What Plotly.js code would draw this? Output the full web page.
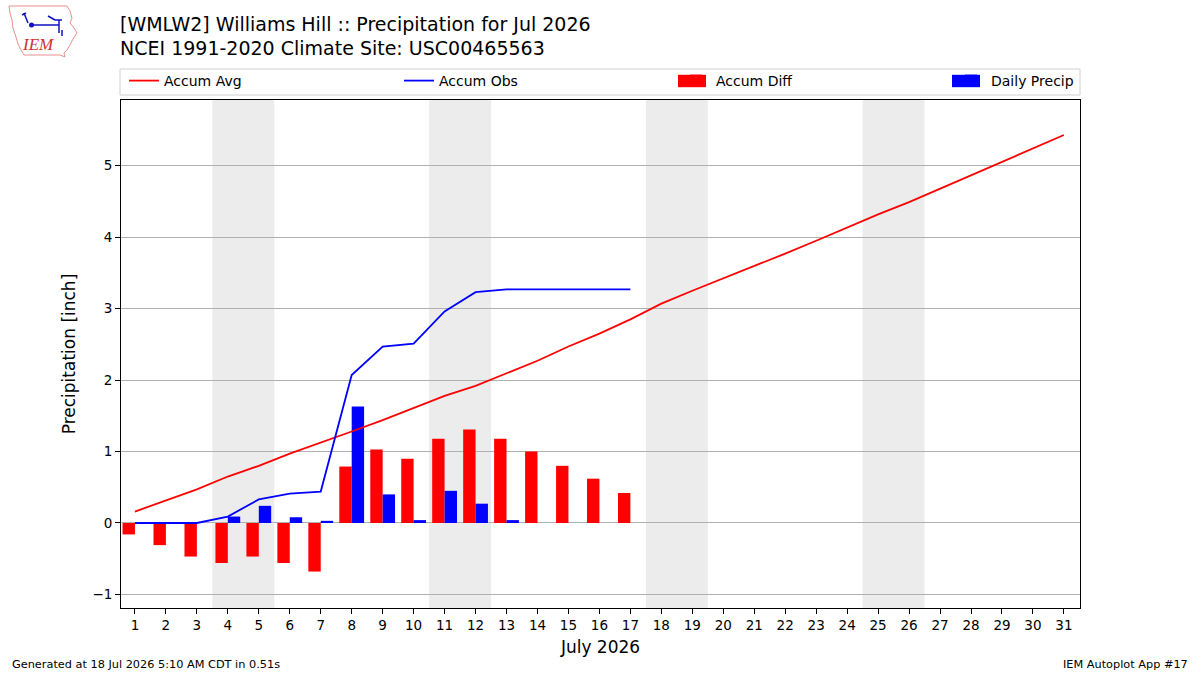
<!DOCTYPE html>
<html>
<head>
<meta charset="utf-8">
<script src="https://cdn.plot.ly/plotly-3.0.1.min.js"></script>
<style>html,body{margin:0;padding:0;background:#fff}#chart{width:1200px;height:675px}</style>
</head>
<body>
<div id="chart"></div>
<script>
// ---- data ----
const days = Array.from({length: 31}, (_, i) => i + 1);
const accumAvg = [0.16, 0.31, 0.47, 0.65, 0.80, 0.97, 1.12, 1.28, 1.44, 1.61, 1.78, 1.92, 2.09, 2.27, 2.47, 2.65, 2.85,
                  3.07, 3.25, 3.42, 3.60, 3.77, 3.95, 4.14, 4.32, 4.49, 4.68, 4.87, 5.06, 5.24, 5.43];
const obsDays = days.slice(0, 17);
const dailyPrecip = [0, 0, 0, 0.09, 0.24, 0.08, 0.03, 1.63, 0.40, 0.04, 0.45, 0.27, 0.04, 0, 0, 0, 0];
const accumObs = [0, 0, 0, 0.09, 0.33, 0.41, 0.44, 2.07, 2.47, 2.51, 2.96, 3.23, 3.27, 3.27, 3.27, 3.27, 3.27];
const accumDiff = [-0.16, -0.31, -0.47, -0.56, -0.47, -0.56, -0.68, 0.79, 1.03, 0.90, 1.18, 1.31, 1.18, 1.00, 0.80, 0.62, 0.42];
const weekendStarts = [4, 11, 18, 25];
const titleLines = ["[WMLW2] Williams Hill :: Precipitation for Jul 2026", "NCEI 1991-2020 Climate Site: USC00465563"];
const footerLeft = "Generated at 18 Jul 2026 5:10 AM CDT in 0.51s";
const footerRight = "IEM Autoplot App #17";

const FONT = "DejaVu Sans, sans-serif";
// plot area in pixels: x 121..1080, y 100..608
const PX = px => (px - 121) / 959;
const PY = py => (608 - py) / 508;

const traces = [
  {x: days, y: accumAvg, type: 'scatter', mode: 'lines', name: 'Accum Avg', legend: 'legend', line: {color: '#ff0000', width: 1.8}},
  {x: obsDays, y: accumObs, type: 'scatter', mode: 'lines', name: 'Accum Obs', legend: 'legend2', line: {color: '#0000ff', width: 1.8}},
  {x: obsDays, y: accumDiff, type: 'bar', name: 'Accum Diff', legend: 'legend3', marker: {color: '#ff0000', line: {width: 0}}, width: 0.4, offset: -0.4},
  {x: obsDays, y: dailyPrecip, type: 'bar', name: 'Daily Precip', legend: 'legend4', marker: {color: '#0000ff', line: {width: 0}}, width: 0.4, offset: 0}
];

const shapes = weekendStarts.map(d => ({
  type: 'rect', xref: 'x', yref: 'paper', x0: d - 0.5, x1: d + 1.5, y0: 0, y1: 1,
  fillcolor: '#ececec', line: {width: 0}, layer: 'below'
}));
// legend frame
shapes.push({type: 'rect', xref: 'paper', yref: 'paper', x0: PX(120), x1: PX(1080), y0: PY(95), y1: PY(69),
  fillcolor: 'rgba(255,255,255,0)', line: {color: '#d0d0d0', width: 1}, layer: 'above'});
// wide legend swatches for the bar series (drawn over the default square symbols)
shapes.push({type: 'rect', xref: 'paper', yref: 'paper', x0: PX(678), x1: PX(706), y0: PY(87.2), y1: PY(74.8),
  fillcolor: '#ff0000', line: {width: 0}, layer: 'above'});
shapes.push({type: 'rect', xref: 'paper', yref: 'paper', x0: PX(952), x1: PX(980), y0: PY(87.2), y1: PY(74.8),
  fillcolor: '#0000ff', line: {width: 0}, layer: 'above'});
// logo: simplified state outline
const outline = [[9,6],[67,6],[70,11],[72,18],[70,23],[74,28],[77,33],[73,39],[70,45],[67,50],[64,53],[65,57],[60,55],[24,55],[21,50],[18,44],[16,37],[13,28],[12,20],[10,13]];
const pathStr = outline.map((p, i) => (i ? 'L ' : 'M ') + PX(p[0]).toFixed(5) + ',' + PY(p[1]).toFixed(5)).join(' ') + ' Z';
shapes.push({type: 'path', xref: 'paper', yref: 'paper', path: pathStr, line: {color: '#e89090', width: 1}, fillcolor: 'rgba(0,0,0,0)', layer: 'above'});
// logo glyph lines
const glyph = [
  [[31,25],[59,25]], [[59,20],[59,33]], [[48,16],[55,20]], [[55,20],[62,20]], [[24,13],[28,23]], [[22,15],[26,13]], [[62,30],[62,36]]
];
glyph.forEach(g => shapes.push({type: 'line', xref: 'paper', yref: 'paper', x0: PX(g[0][0]), y0: PY(g[0][1]), x1: PX(g[1][0]), y1: PY(g[1][1]),
  line: {color: '#1010c0', width: 1.5}, layer: 'above'}));
shapes.push({type: 'circle', xref: 'paper', yref: 'paper', x0: PX(29), x1: PX(34), y0: PY(27.5), y1: PY(22.5), fillcolor: '#1010c0', line: {width: 0}, layer: 'above'});

const annotations = [
  {text: titleLines[0], xref: 'paper', yref: 'paper', x: PX(118), y: PY(24), xanchor: 'left', yanchor: 'middle', showarrow: false,
   font: {family: FONT, size: 19, color: '#000'}},
  {text: titleLines[1], xref: 'paper', yref: 'paper', x: PX(118), y: PY(48), xanchor: 'left', yanchor: 'middle', showarrow: false,
   font: {family: FONT, size: 19, color: '#000'}},
  {text: footerLeft, xref: 'paper', yref: 'paper', x: PX(10), y: PY(664), xanchor: 'left', yanchor: 'middle', showarrow: false,
   font: {family: FONT, size: 11.3, color: '#000'}},
  {text: footerRight, xref: 'paper', yref: 'paper', x: PX(1190), y: PY(664), xanchor: 'right', yanchor: 'middle', showarrow: false,
   font: {family: FONT, size: 11.3, color: '#000'}},
  {text: '<i>IEM</i>', xref: 'paper', yref: 'paper', x: PX(38), y: PY(45), xanchor: 'center', yanchor: 'middle', showarrow: false,
   font: {family: 'Liberation Serif, serif', size: 17, color: '#d03030'}}
];

const legendBase = {orientation: 'h', xanchor: 'left', y: PY(81), yanchor: 'middle',
  bgcolor: 'rgba(255,255,255,0)', borderwidth: 0, font: {family: FONT, size: 14, color: '#000'}};

const layout = {
  width: 1200, height: 675,
  margin: {l: 121, r: 120, t: 100, b: 67, pad: 0},
  paper_bgcolor: '#ffffff', plot_bgcolor: '#ffffff',
  font: {family: FONT, size: 13.5, color: '#000'},
  showlegend: true,
  barmode: 'overlay',
  legend: Object.assign({}, legendBase, {x: PX(124)}),
  legend2: Object.assign({}, legendBase, {x: PX(399)}),
  legend3: Object.assign({}, legendBase, {x: PX(676)}),
  legend4: Object.assign({}, legendBase, {x: PX(951)}),
  xaxis: {range: [0.55, 31.52], tickmode: 'array', tickvals: days, ticktext: days.map(String),
          showgrid: false, zeroline: false, showline: true, linecolor: '#000', linewidth: 1, mirror: true,
          ticks: 'outside', ticklen: 5, tickcolor: '#000',
          title: {text: 'July 2026', font: {family: FONT, size: 17}, standoff: 8}},
  yaxis: {range: [-1.19, 5.92], tickmode: 'array', tickvals: [-1, 0, 1, 2, 3, 4, 5],
          showgrid: true, gridcolor: '#b0b0b0', gridwidth: 1, zeroline: false,
          showline: true, linecolor: '#000', linewidth: 1, mirror: true,
          ticks: 'outside', ticklen: 5, tickcolor: '#000',
          title: {text: 'Precipitation [inch]', font: {family: FONT, size: 17}, standoff: 12}},
  shapes: shapes,
  annotations: annotations
};

Plotly.newPlot('chart', traces, layout, {displayModeBar: false, staticPlot: true});
</script>
</body>
</html>
